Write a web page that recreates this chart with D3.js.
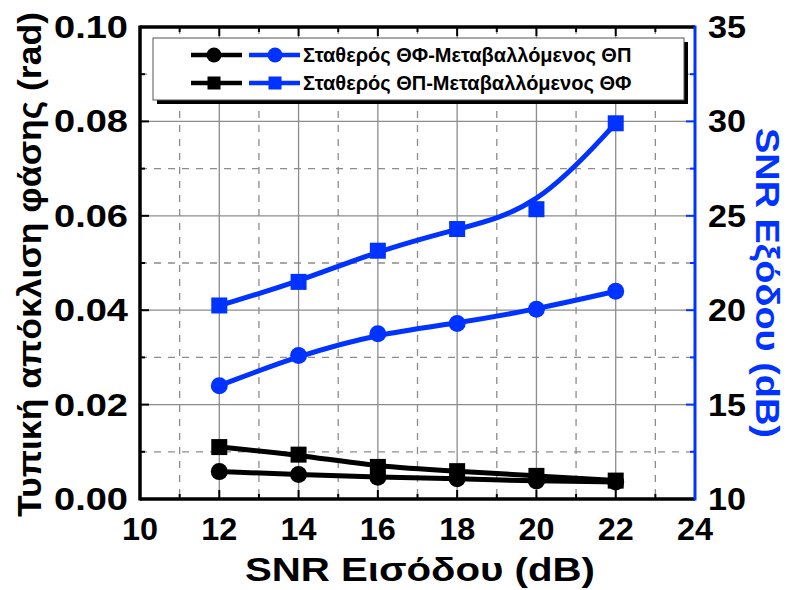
<!DOCTYPE html>
<html><head><meta charset="utf-8">
<script src="https://cdn.jsdelivr.net/npm/d3@7"></script>
<style>body{margin:0;background:#fff}svg{display:block}text{font-family:"Liberation Sans",Arial,sans-serif;font-weight:bold}</style>
</head><body><svg id="c" width="790" height="590"></svg>
<script>
const snrIn = [12, 14, 16, 18, 20, 22];
const stdCirc = [0.0058, 0.0052, 0.0046, 0.0043, 0.0038, 0.0036];
const stdSq = [0.0110, 0.0094, 0.0068, 0.0059, 0.0049, 0.0039];
const snrOutCirc = [16.0, 17.6, 18.75, 19.3, 20.05, 21.0];
const snrOutSq = [20.25, 21.5, 23.15, 24.3, 25.35, 29.9];
const xTicks = [10, 12, 14, 16, 18, 20, 22, 24];
const yTicks = [0, 0.02, 0.04, 0.06, 0.08, 0.10];
const y2Ticks = [10, 15, 20, 25, 30, 35];
const legendLabels = ["Σταθερός ΘΦ-Μεταβαλλόμενος ΘΠ", "Σταθερός ΘΠ-Μεταβαλλόμενος ΘΦ"];

const svg = d3.select("#c");
const L = 140, R = 695, T = 27, B = 499;
const x = d3.scaleLinear().domain([10, 24]).range([L, R]);
const y = d3.scaleLinear().domain([0, 0.1]).range([B, T]);
const y2 = d3.scaleLinear().domain([10, 35]).range([B, T]);
const blue = "#0033ff";

// grid
const g = svg.append("g");
d3.range(11, 24, 1).forEach(v => {
  g.append("line").attr("x1", x(v)).attr("x2", x(v)).attr("y1", T).attr("y2", B)
   .attr("stroke", "#8c8c8c").attr("stroke-width", 1.3)
   .attr("stroke-dasharray", v % 2 ? "7,7" : null);
});
d3.range(1, 10, 1).forEach(i => {
  const v = i / 100;
  g.append("line").attr("x1", L).attr("x2", R).attr("y1", y(v)).attr("y2", y(v))
   .attr("stroke", "#8c8c8c").attr("stroke-width", 1.3)
   .attr("stroke-dasharray", i % 2 ? "7,7" : null);
});

// data
function series(vals, ys, color, shape) {
  const pts = snrIn.map((s, i) => [x(s), ys(vals[i])]);
  svg.append("path").attr("d", d3.line().curve(d3.curveBasis)(pts))
    .attr("fill", "none").attr("stroke", color).attr("stroke-width", 5);
  pts.forEach(p => {
    if (shape === "c") svg.append("circle").attr("cx", p[0]).attr("cy", p[1]).attr("r", 8.5).attr("fill", color);
    else svg.append("rect").attr("x", p[0] - 8).attr("y", p[1] - 8).attr("width", 16).attr("height", 16).attr("fill", color);
  });
}
series(snrOutCirc, y2, blue, "c");
series(snrOutSq, y2, blue, "s");
series(stdSq, y, "#000", "s");
series(stdCirc, y, "#000", "c");

// axes
const ax = svg.append("g");
d3.range(10, 24.5, 1).forEach(v => {
  const len = v % 2 ? 5 : 9;
  ax.append("line").attr("x1", x(v)).attr("x2", x(v)).attr("y1", B).attr("y2", B - len).attr("stroke", "#000").attr("stroke-width", 2);
  ax.append("line").attr("x1", x(v)).attr("x2", x(v)).attr("y1", T).attr("y2", T + len).attr("stroke", "#000").attr("stroke-width", 2);
});
d3.range(0, 11, 1).forEach(i => {
  const len = i % 2 ? 5 : 9;
  ax.append("line").attr("x1", L).attr("x2", L + len).attr("y1", y(i / 100)).attr("y2", y(i / 100)).attr("stroke", "#000").attr("stroke-width", 2);
});
d3.range(10, 35.1, 2.5).forEach(v => {
  const len = (v % 5) ? 5 : 9;
  ax.append("line").attr("x1", R).attr("x2", R - len).attr("y1", y2(v)).attr("y2", y2(v)).attr("stroke", blue).attr("stroke-width", 2);
});
ax.append("line").attr("x1", L).attr("x2", R).attr("y1", T).attr("y2", T).attr("stroke", "#000").attr("stroke-width", 3.5);
ax.append("line").attr("x1", L).attr("x2", R).attr("y1", B).attr("y2", B).attr("stroke", "#000").attr("stroke-width", 3.5);
ax.append("line").attr("x1", L).attr("x2", L).attr("y1", T - 1.5).attr("y2", B + 1.5).attr("stroke", "#000").attr("stroke-width", 3.5);
ax.append("line").attr("x1", R).attr("x2", R).attr("y1", T - 1.5).attr("y2", B + 1.5).attr("stroke", blue).attr("stroke-width", 3);

// tick labels
xTicks.forEach(v => ax.append("text").attr("x", x(v) - 18).attr("y", 540).attr("font-size", 31)
  .attr("textLength", 36).attr("lengthAdjust", "spacingAndGlyphs").text(v));
yTicks.forEach(v => ax.append("text").attr("x", 54).attr("y", y(v) + 11).attr("font-size", 31)
  .attr("textLength", 74).attr("lengthAdjust", "spacingAndGlyphs").text(v.toFixed(2)));
y2Ticks.forEach(v => ax.append("text").attr("x", 708).attr("y", y2(v) + 11).attr("font-size", 31)
  .attr("textLength", 38).attr("lengthAdjust", "spacingAndGlyphs").text(v));

// axis titles
svg.append("text").attr("x", 245).attr("y", 581).attr("font-size", 33)
  .attr("textLength", 350).attr("lengthAdjust", "spacingAndGlyphs").text("SNR Εισόδου (dB)");
svg.append("text").attr("transform", "translate(41,517) rotate(-90)").attr("font-size", 33)
  .attr("textLength", 505).attr("lengthAdjust", "spacingAndGlyphs").text("Τυπική απόκλιση φάσης (rad)");
svg.append("text").attr("transform", "translate(756,128) rotate(90)").attr("font-size", 33).attr("fill", blue)
  .attr("textLength", 310).attr("lengthAdjust", "spacingAndGlyphs").text("SNR Εξόδου (dB)");

// legend
const lg = svg.append("g");
lg.append("rect").attr("x", 157).attr("y", 42).attr("width", 531).attr("height", 62).attr("fill", "#000");
lg.append("rect").attr("x", 153).attr("y", 38).attr("width", 531).attr("height", 62).attr("fill", "#fff").attr("stroke", "#555").attr("stroke-width", 1);
[["c", 55], ["s", 83]].forEach(([shape, yy], i) => {
  [["#000", 191, 242, 214], [blue, 249, 300, 275]].forEach(([col, a, b, m]) => {
    lg.append("line").attr("x1", a).attr("x2", b).attr("y1", yy).attr("y2", yy).attr("stroke", col).attr("stroke-width", 4.5);
    if (shape === "c") lg.append("circle").attr("cx", m).attr("cy", yy).attr("r", 7.5).attr("fill", col);
    else lg.append("rect").attr("x", m - 6.5).attr("y", yy - 6.5).attr("width", 13).attr("height", 13).attr("fill", col);
  });
  lg.append("text").attr("x", 303).attr("y", yy + 7).attr("font-size", 20).text(legendLabels[i]);
});
</script></body></html>
